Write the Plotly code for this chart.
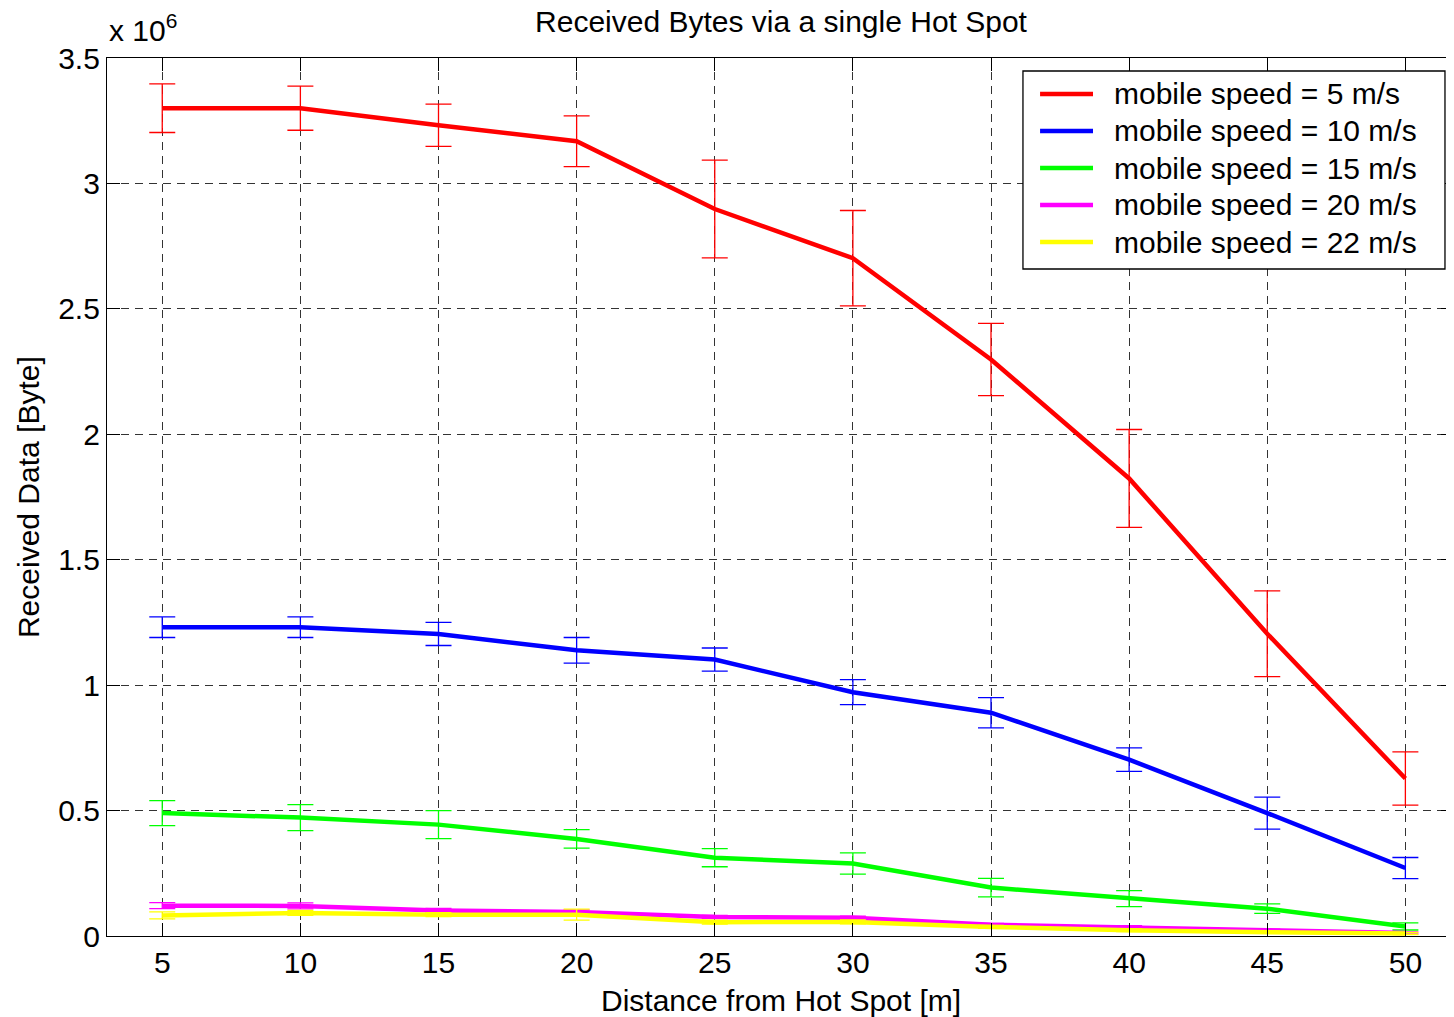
import plotly.graph_objects as go

# Distance from hot spot [m]
distance = [5, 10, 15, 20, 25, 30, 35, 40, 45, 50]

# Received data, in units of 10^6 bytes
speed_labels = ["mobile speed = 5 m/s", "mobile speed = 10 m/s", "mobile speed = 15 m/s",
                "mobile speed = 20 m/s", "mobile speed = 22 m/s"]

rx_5 = [3.30, 3.30, 3.232, 3.168, 2.898, 2.702, 2.298, 1.824, 1.205, 0.628]
err_5 = [0.097, 0.088, 0.084, 0.101, 0.195, 0.190, 0.144, 0.195, 0.171, 0.106]

rx_10 = [1.231, 1.231, 1.204, 1.139, 1.102, 0.972, 0.890, 0.703, 0.490, 0.271]
err_10 = [0.041, 0.041, 0.046, 0.051, 0.046, 0.050, 0.060, 0.047, 0.064, 0.042]

rx_15 = [0.490, 0.472, 0.444, 0.387, 0.312, 0.289, 0.193, 0.149, 0.109, 0.038]
err_15 = [0.050, 0.052, 0.056, 0.037, 0.036, 0.042, 0.037, 0.032, 0.019, 0.014]

rx_20 = [0.121, 0.120, 0.102, 0.096, 0.076, 0.073, 0.045, 0.036, 0.023, 0.012]
err_20 = [0.012, 0.012, 0.008, 0.008, 0.006, 0.006, 0.005, 0.005, 0.004, 0.004]

rx_22 = [0.082, 0.092, 0.085, 0.085, 0.055, 0.056, 0.036, 0.023, 0.015, 0.010]
err_22 = [0.014, 0.010, 0.008, 0.022, 0.008, 0.008, 0.006, 0.005, 0.004, 0.004]

series = [rx_5, rx_10, rx_15, rx_20, rx_22]
errors = [err_5, err_10, err_15, err_20, err_22]
colors = ["#FF0000", "#0000FF", "#00FF00", "#FF00FF", "#FFFF00"]

FONT = "Liberation Sans, Arial, Helvetica, sans-serif"

fig = go.Figure()
for name, ys, es, col in zip(speed_labels, series, errors, colors):
    fig.add_trace(go.Scatter(
        x=distance, y=ys, mode="lines", name=name, showlegend=False,
        line=dict(color=col, width=4.5),
        error_y=dict(type="data", array=es, visible=True, color=col,
                     thickness=1.3, width=13),
    ))

fig.update_layout(
    width=1446, height=1009,
    margin=dict(l=99, r=0, t=50, b=81),
    paper_bgcolor="white", plot_bgcolor="white",
    font=dict(family=FONT, size=30, color="black"),
    showlegend=False,
    title=dict(text="Received Bytes via a single Hot Spot", x=773 / 1446, xanchor="center",
               y=1 - 13 / 1009, yanchor="middle", yref="container",
               font=dict(family=FONT, size=30, color="black")),
)

fig.update_xaxes(
    range=[3.0, 51.76], tickvals=distance, ticktext=[str(d) for d in distance],
    showline=True, linecolor="black", linewidth=1.2, mirror="ticks",
    ticks="inside", ticklen=13, tickcolor="black", tickwidth=1,
    showgrid=True, gridcolor="rgba(0,0,0,0.8)", gridwidth=1, griddash="8px,6px",
    zeroline=False, tickfont=dict(size=30, family=FONT),
)
fig.update_yaxes(
    range=[0, 3.5], tickvals=[0, 0.5, 1, 1.5, 2, 2.5, 3, 3.5],
    ticktext=["0", "0.5", "1", "1.5", "2", "2.5", "3", "3.5"],
    showline=True, linecolor="black", linewidth=1.2, mirror="ticks",
    ticks="inside", ticklen=13, tickcolor="black", tickwidth=1,
    showgrid=True, gridcolor="rgba(0,0,0,0.8)", gridwidth=1, griddash="8px,6px",
    zeroline=False, tickfont=dict(size=30, family=FONT),
)

# Legend drawn as a boxed key (paper coordinates)
fig.add_shape(type="rect", xref="paper", yref="paper",
              x0=0.6800, x1=0.9933, y0=0.7597, y1=0.9852,
              line=dict(color="black", width=1.3), fillcolor="white", layer="above")
row_y = [0.9590, 0.9169, 0.8747, 0.8326, 0.7904]
for name, col, yy in zip(speed_labels, colors, row_y):
    fig.add_shape(type="line", xref="paper", yref="paper",
                  x0=0.6927, x1=0.7320, y0=yy, y1=yy,
                  line=dict(color=col, width=4.5), layer="above")
    fig.add_annotation(text=name, xref="paper", yref="paper", x=0.7461, y=yy,
                       xanchor="left", yanchor="middle", showarrow=False,
                       font=dict(family=FONT, size=30, color="black"))

# Axis titles and exponent label
fig.add_annotation(text="Distance from Hot Spot [m]", xref="paper", yref="paper",
                   x=0.5, y=-0.0732, xanchor="center", yanchor="middle", showarrow=False,
                   font=dict(family=FONT, size=30, color="black"))
fig.add_annotation(text="Received Data [Byte]", xref="paper", yref="paper",
                   x=-0.0586, y=0.5, xanchor="center", yanchor="middle", showarrow=False,
                   textangle=-90, font=dict(family=FONT, size=30, color="black"))
fig.add_annotation(text="x 10<sup>6</sup>", xref="paper", yref="paper",
                   x=0.0, y=1.0, xanchor="left", yanchor="bottom", yshift=9, showarrow=False,
                   font=dict(family=FONT, size=30, color="black"))

fig.write_html("out.html")
